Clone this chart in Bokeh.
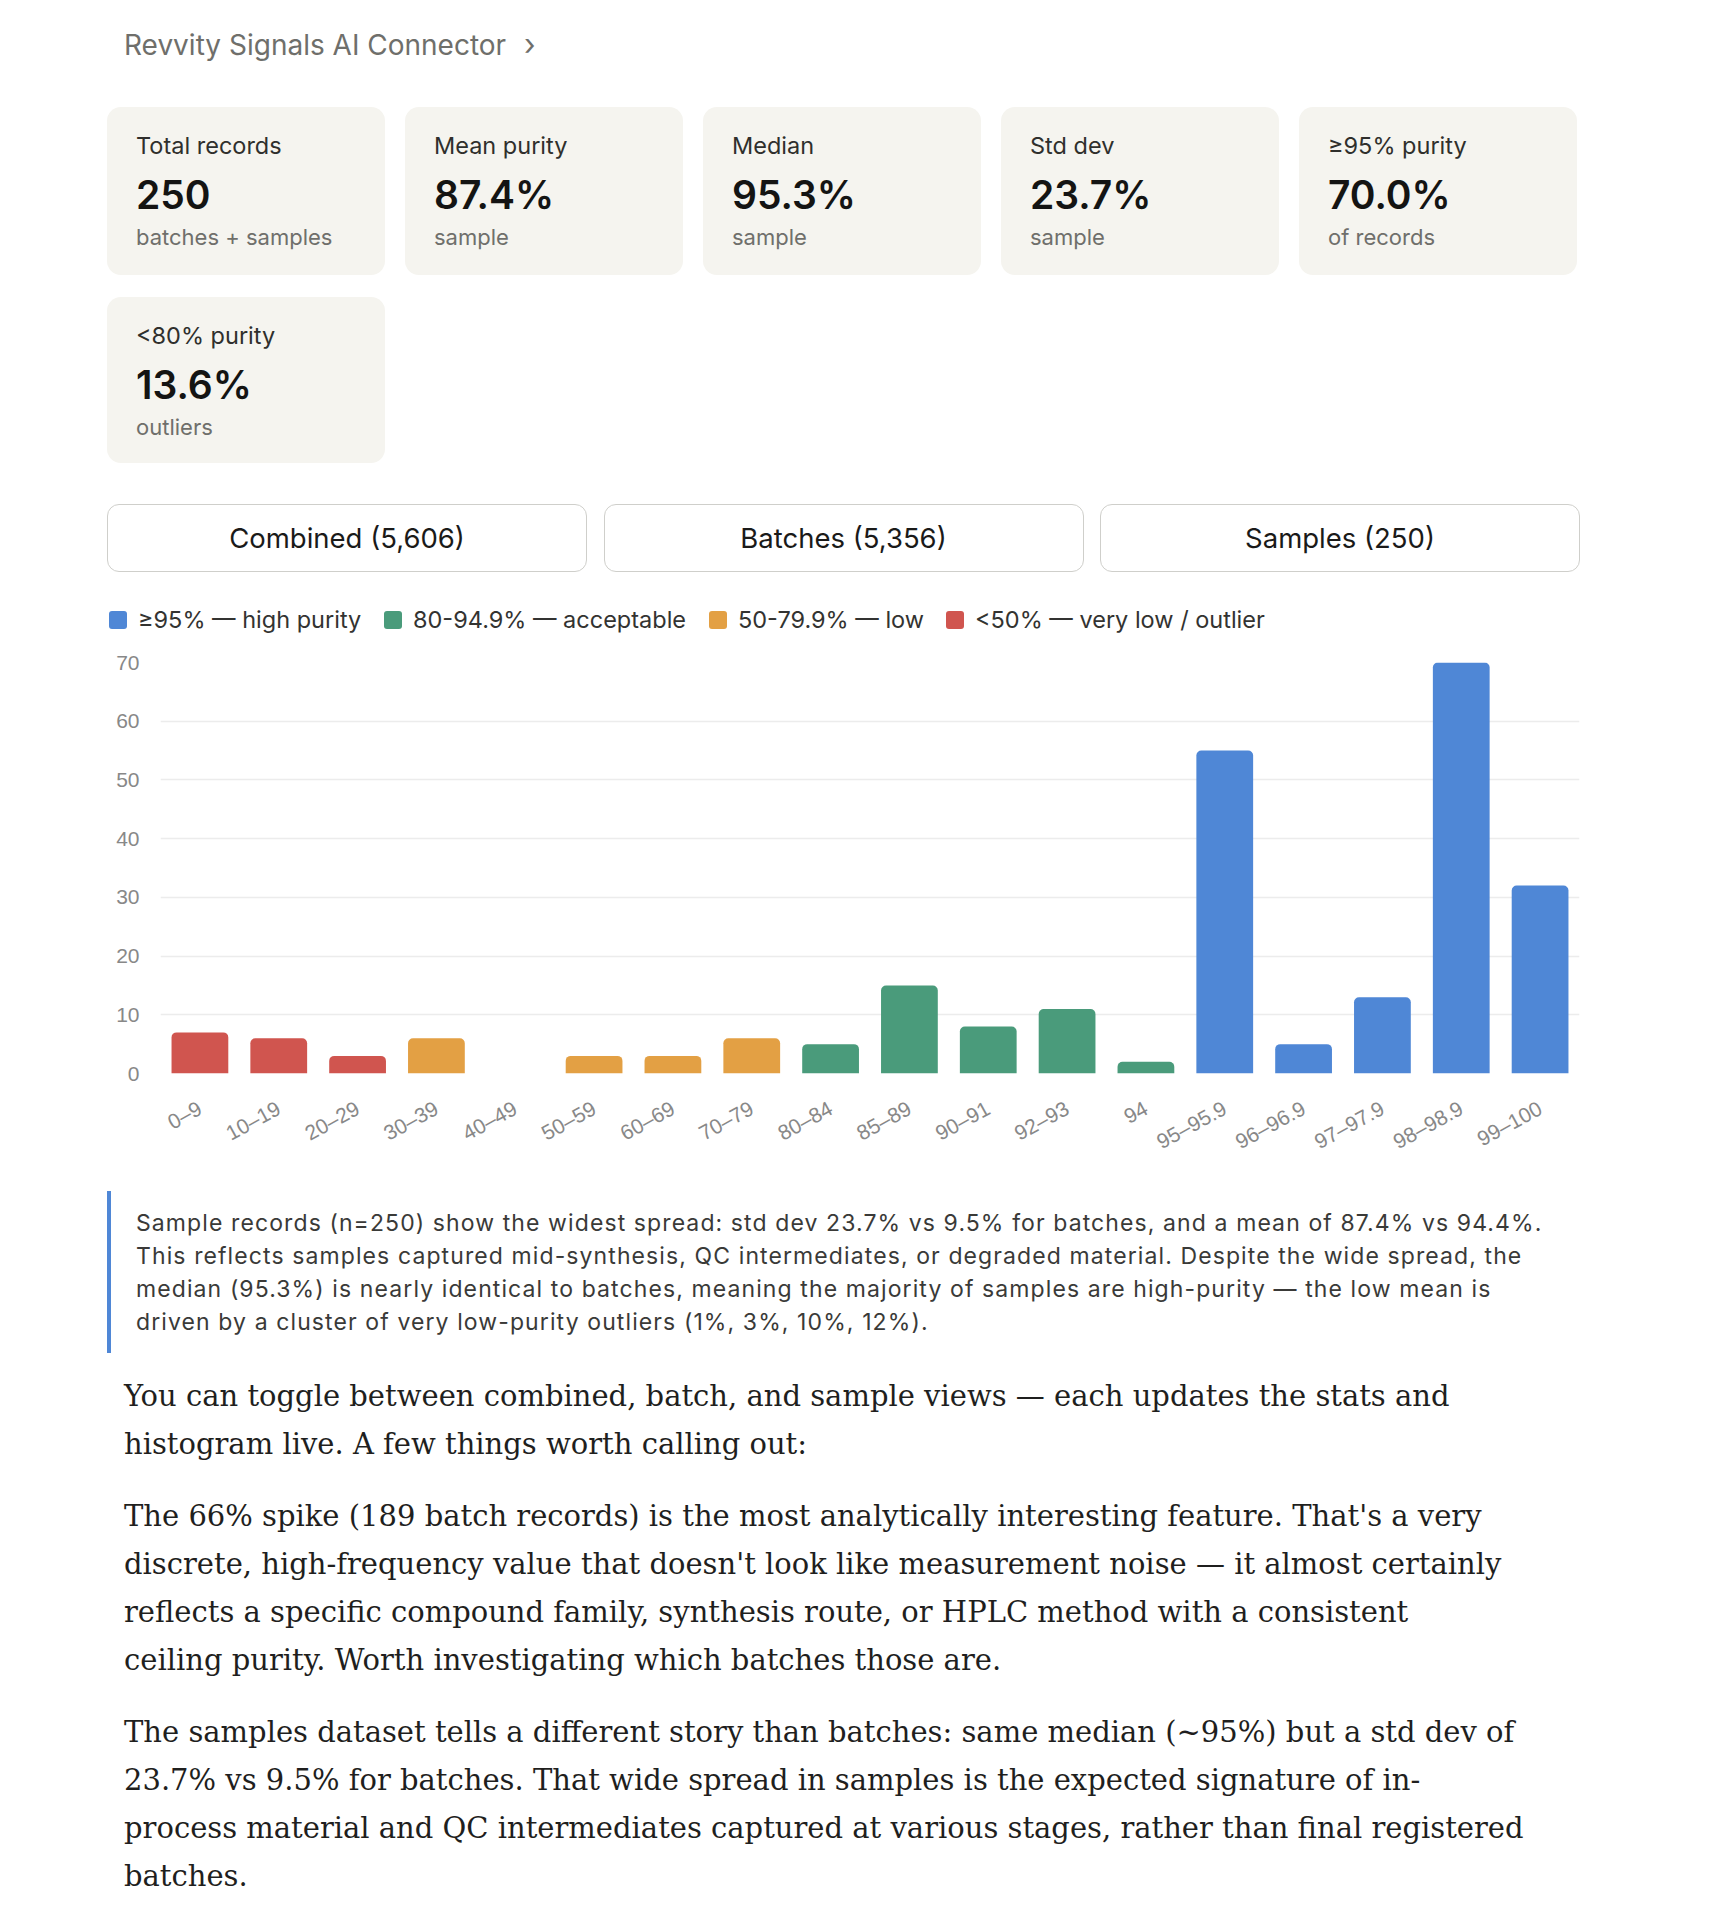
import html
from bokeh.plotting import figure
from bokeh.models import Div, ColumnDataSource, FactorRange, Range1d, FixedTicker
from bokeh.layouts import column
from bokeh.embed import file_html
from bokeh.resources import INLINE

# ---------------- data ----------------
header_title = "Revvity Signals AI Connector"
card_labels = ["Total records", "Mean purity", "Median", "Std dev", "≥95% purity", "<80% purity"]
card_values = ["250", "87.4%", "95.3%", "23.7%", "70.0%", "13.6%"]
card_subs = ["batches + samples", "sample", "sample", "sample", "of records", "outliers"]
view_buttons = ["Combined (5,606)", "Batches (5,356)", "Samples (250)"]

bins = ["0–9", "10–19", "20–29", "30–39", "40–49", "50–59", "60–69", "70–79", "80–84",
        "85–89", "90–91", "92–93", "94", "95–95.9", "96–96.9", "97–97.9", "98–98.9", "99–100"]
counts = [7, 6, 3, 6, 0, 3, 3, 6, 5, 15, 8, 11, 2, 55, 5, 13, 70, 32]
bin_band = ["low50", "low50", "low50", "mid", "mid", "mid", "mid", "mid", "ok",
            "ok", "ok", "ok", "ok", "high", "high", "high", "high", "high"]
band_keys = ["high", "ok", "mid", "low50"]
band_labels = ["≥95% — high purity", "80-94.9% — acceptable", "50-79.9% — low", "<50% — very low / outlier"]
band_colors = ["#4F87D6", "#4A9B7B", "#E3A044", "#D0554F"]
y_ticks = [0, 10, 20, 30, 40, 50, 60, 70]

note_lines = [
    "Sample records (n=250) show the widest spread: std dev 23.7% vs 9.5% for batches, and a mean of 87.4% vs 94.4%.",
    "This reflects samples captured mid-synthesis, QC intermediates, or degraded material. Despite the wide spread, the",
    "median (95.3%) is nearly identical to batches, meaning the majority of samples are high-purity — the low mean is",
    "driven by a cluster of very low-purity outliers (1%, 3%, 10%, 12%).",
]
paragraphs = [
    ["You can toggle between combined, batch, and sample views — each updates the stats and",
     "histogram live. A few things worth calling out:"],
    ["The 66% spike (189 batch records) is the most analytically interesting feature. That's a very",
     "discrete, high-frequency value that doesn't look like measurement noise — it almost certainly",
     "reflects a specific compound family, synthesis route, or HPLC method with a consistent",
     "ceiling purity. Worth investigating which batches those are."],
    ["The samples dataset tells a different story than batches: same median (~95%) but a std dev of",
     "23.7% vs 9.5% for batches. That wide spread in samples is the expected signature of in-",
     "process material and QC intermediates captured at various stages, rather than final registered",
     "batches."],
]

SANS = "Inter, 'Noto Sans', sans-serif"
SERIF = "'DejaVu Serif', serif"
W = 1694


def line(left, center, text, size, color, weight=400, lh=None, family=SANS, extra=""):
    lh = lh or int(size * 1.4)
    top = center - lh / 2
    return (f'<div style="position:absolute;left:{left}px;top:{top}px;line-height:{lh}px;'
            f'font-size:{size}px;font-family:{family};font-weight:{weight};color:{color};'
            f'white-space:nowrap;{extra}">{html.escape(text)}</div>')


def rect(left, top, w, h, style):
    return f'<div style="position:absolute;left:{left}px;top:{top}px;width:{w}px;height:{h}px;{style}"></div>'


# ---------------- top section (page coordinates) ----------------
TOP_H = 640
parts = []
parts.append(line(124, 45, header_title, 28, "#6f6f6b"))
parts.append(line(524, 44, "›", 30, "#6f6f6b"))
card_w, card_gap = 278, 20
for i in range(len(card_labels)):
    row, col = divmod(i, 5)
    left = 107 + col * (card_w + card_gap)
    top = 107 + row * 190
    h = 168 if row == 0 else 166
    parts.append(rect(left, top, card_w, h, "background:#F5F4EF;border-radius:14px;"))
    parts.append(line(left + 29, top + 39, card_labels[i], 23.5, "#2f2f2c"))
    parts.append(line(left + 29, top + 88, card_values[i], 39, "#141413", weight=600))
    parts.append(line(left + 29, top + 130, card_subs[i], 22, "#6f6f6b"))
btn_w = 480
for i, b in enumerate(view_buttons):
    left = 107 + i * 496.5
    parts.append(rect(left, 504, btn_w, 68,
                      "box-sizing:border-box;border:1.5px solid #cfcfcb;border-radius:12px;background:#ffffff;"))
    parts.append(f'<div style="position:absolute;left:{left}px;top:504px;width:{btn_w}px;height:68px;'
                 f'line-height:68px;text-align:center;font-size:27.5px;font-family:{SANS};color:#1a1a19;">'
                 f'{html.escape(b)}</div>')
# chart legend (HTML, like the original page)
legend_lefts = [109, 384, 709, 946]
for lx, lab, colr in zip(legend_lefts, band_labels, band_colors):
    parts.append(rect(lx, 611, 18, 18, f"background:{colr};border-radius:3px;"))
    parts.append(line(lx + 29, 620, lab, 23.5, "#333331"))
top_div = Div(text=f'<div style="position:relative;width:{W}px;height:{TOP_H}px;">' + "".join(parts) + "</div>",
              width=W, height=TOP_H, margin=0)

# ---------------- chart ----------------
# frame spans page y 662..1073 and x 160..1579
p = figure(x_range=FactorRange(factors=bins), y_range=Range1d(0, 70),
           width=W, height=530, output_backend="svg", toolbar_location=None,
           min_border_left=160, min_border_right=115, min_border_top=22, min_border_bottom=97)
for key, lab, colr in zip(band_keys, band_labels, band_colors):
    xs = [b for b, k in zip(bins, bin_band) if k == key]
    ys = [c for c, k in zip(counts, bin_band) if k == key]
    src = ColumnDataSource(dict(x=xs, top=ys))
    p.vbar(x="x", top="top", width=0.72, source=src, fill_color=colr, line_color=None,
           border_radius=(5, 5, 0, 0), name=lab)

p.outline_line_color = None
p.xgrid.grid_line_color = None
p.ygrid.grid_line_color = "#ececec"
p.ygrid.grid_line_width = 1.5
p.yaxis.ticker = FixedTicker(ticks=y_ticks)
for ax in (p.xaxis[0], p.yaxis[0]):
    ax.axis_line_color = None
    ax.major_tick_line_color = None
    ax.minor_tick_line_color = None
    ax.major_label_text_font = "Liberation Sans"
    ax.major_label_text_font_size = "21px"
    ax.major_label_text_color = "#888888"
p.yaxis.major_tick_out = 0
p.yaxis.major_label_standoff = 21
p.xaxis.major_label_orientation = 0.5
p.xaxis.major_label_standoff = 27

# ---------------- bottom section (page y offset 1170) ----------------
BOT_H = 740
bparts = []
bparts.append(rect(107, 21, 4, 162, "background:#4F87D6;"))
for j, t in enumerate(note_lines):
    bparts.append(line(136, 53 + j * 33, t, 23, "#3a3a38", lh=33, extra="letter-spacing:1.1px;"))
para_tops = [226, 346, 562]
for top, plines in zip(para_tops, paragraphs):
    for j, t in enumerate(plines):
        bparts.append(line(124, top + j * 48, t, 29, "#1f1f1e", lh=48, family=SERIF))
bottom_div = Div(text=f'<div style="position:relative;width:{W}px;height:{BOT_H}px;">' + "".join(bparts) + "</div>",
                 width=W, height=BOT_H, margin=0)

layout = column(top_div, p, bottom_div, spacing=0)
open("out.html", "w").write(file_html(layout, INLINE))
